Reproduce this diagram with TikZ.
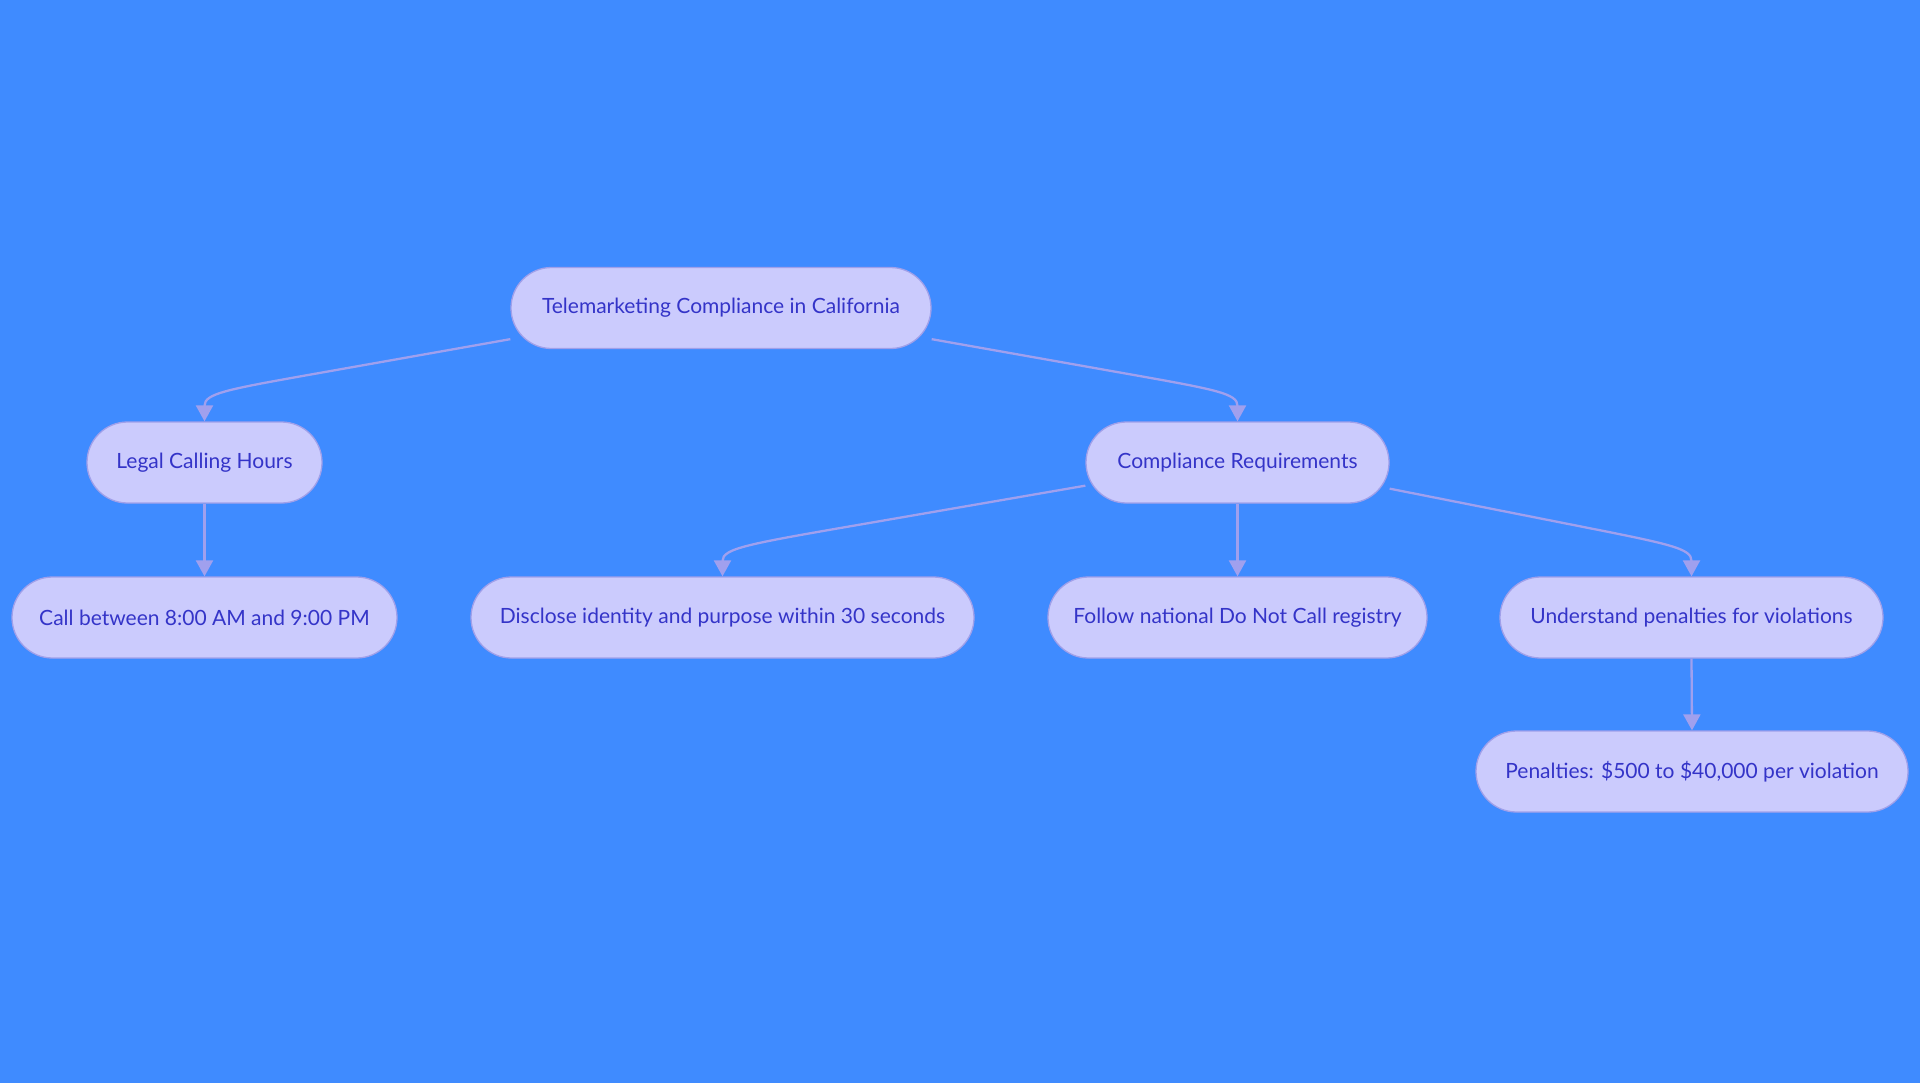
\documentclass[tikz,border=0pt]{standalone}
\usepackage{fontspec}
\setmainfont{Lato}
\usetikzlibrary{arrows.meta,calc}
\definecolor{bg}{HTML}{3F8BFF}
\definecolor{nodefill}{HTML}{CBCBFD}
\definecolor{nodeline}{HTML}{A0A0EA}
\definecolor{edgecol}{HTML}{A0A0EE}
\definecolor{txt}{HTML}{3434C8}
\begin{document}
\begin{tikzpicture}[x=1bp,y=-1bp,
  pill/.style={draw=nodeline, line width=1.3bp, fill=nodefill, rounded corners=40.5bp,
    minimum height=81bp, inner sep=0pt, text=txt, font=\fontsize{21bp}{26bp}\selectfont},
  edge/.style={draw=edgecol, line width=2.3bp, -{Triangle[width=17bp,length=16bp]}}]
\fill[bg] (0,0) rectangle (1920,1083);
\useasboundingbox (0,0) rectangle (1920,1083);
% nodes
\node[pill, minimum width=420bp] (root) at (721,308) {Telemarketing Compliance in California};
\node[pill, minimum width=235bp] (legal) at (204.5,462.5) {Legal Calling Hours};
\node[pill, minimum width=303bp] (comp) at (1237.5,462.5) {Compliance Requirements};
\node[pill, minimum width=385bp] (call) at (204.5,617.5) {Call between 8:00 AM and 9:00 PM};
\node[pill, minimum width=503bp] (disc) at (722.5,617.5) {Disclose identity and purpose within 30 seconds};
\node[pill, minimum width=379bp] (follow) at (1237.5,617.5) {Follow national Do Not Call registry};
\node[pill, minimum width=383bp] (under) at (1691.5,617.5) {Understand penalties for violations};
\node[pill, minimum width=432bp] (pen) at (1692,771.5) {Penalties: \$500 to \$40,000 per violation};
% curved edges
\coordinate (s1) at ($(root.south west)+(0,-10)$);
\coordinate (k1) at ($(legal.north)+(0,-28)$);
\draw[edge] (s1) -- ($(s1)!0.62!(k1)$) .. controls ($(s1)!0.93!(k1)$) and (k1) .. (legal.north);
\coordinate (s2) at ($(root.south east)+(0,-10)$);
\coordinate (k2) at ($(comp.north)+(0,-28)$);
\draw[edge] (s2) -- ($(s2)!0.62!(k2)$) .. controls ($(s2)!0.93!(k2)$) and (k2) .. (comp.north);
\coordinate (s3) at ($(comp.south west)+(0,-18)$);
\coordinate (k3) at ($(disc.north)+(0,-28)$);
\draw[edge] (s3) -- ($(s3)!0.62!(k3)$) .. controls ($(s3)!0.93!(k3)$) and (k3) .. (disc.north);
\coordinate (s4) at ($(comp.south east)+(0,-15)$);
\coordinate (k4) at ($(under.north)+(0,-28)$);
\draw[edge] (s4) -- ($(s4)!0.62!(k4)$) .. controls ($(s4)!0.93!(k4)$) and (k4) .. (under.north);
% straight edges
\draw[edge] (legal.south) -- (call.north);
\draw[edge] (comp.south) -- (follow.north);
\draw[edge] (under.south) -- (pen.north);
\end{tikzpicture}
\end{document}
